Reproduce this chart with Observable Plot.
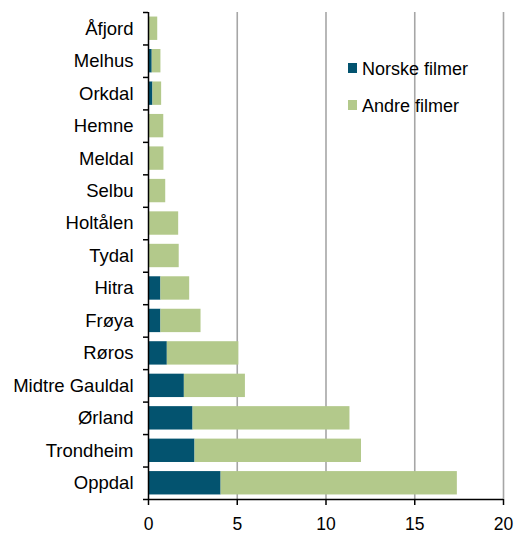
<!DOCTYPE html>
<html>
<head>
<meta charset="utf-8">
<script src="https://cdn.jsdelivr.net/npm/d3@7"></script>
<script src="https://cdn.jsdelivr.net/npm/@observablehq/plot@0.6"></script>
<style>
  html, body { margin: 0; padding: 0; background: #fff; }
  #wrap { position: relative; width: 516px; height: 533px; font-family: "Liberation Sans", Arial, sans-serif; }
  .sw { position: absolute; width: 9px; height: 10px; }
  .lt { position: absolute; font-size: 18px; line-height: 18px; color: #000; white-space: nowrap; }
</style>
</head>
<body>
<div id="wrap"></div>
<script>
const categories = ["Åfjord","Melhus","Orkdal","Hemne","Meldal","Selbu","Holtålen","Tydal","Hitra","Frøya","Røros","Midtre Gauldal","Ørland","Trondheim","Oppdal"];
const norske = [0, 0.21, 0.25, 0, 0, 0, 0, 0, 0.70, 0.70, 1.06, 2.02, 2.51, 2.62, 4.09];
const andre  = [0.52, 0.49, 0.49, 0.86, 0.87, 0.97, 1.70, 1.73, 1.62, 2.26, 4.03, 3.44, 8.84, 9.38, 13.31];
const seriesNames = ["Norske filmer", "Andre filmer"];
const colors = ["#03536f", "#b3c98b"];
const xTicks = [0, 5, 10, 15, 20];

const rows = [];
categories.forEach((c, i) => {
  rows.push({cat: c, i, series: seriesNames[0], x1: 0, x2: norske[i]});
  rows.push({cat: c, i, series: seriesNames[1], x1: norske[i], x2: norske[i] + andre[i]});
});

const n = categories.length;
const pad = 0.14;

const chart = Plot.plot({
  width: 516,
  height: 533,
  marginLeft: 148,
  marginRight: 13,
  marginTop: 12,
  marginBottom: 34,
  style: {fontFamily: "Liberation Sans, Arial, sans-serif", fontSize: "18px", color: "#000", background: "#fff"},
  x: {domain: [0, 20]},
  y: {domain: [n, 0]},
  color: {domain: seriesNames, range: colors},
  marks: [
    Plot.ruleX(xTicks.slice(1), {stroke: "#a6a6a6", strokeWidth: 1.6}),
    Plot.rect(rows.filter(d => d.x2 > d.x1), {
      x1: "x1", x2: "x2",
      y1: d => d.i + pad, y2: d => d.i + 1 - pad,
      fill: "series"
    }),
    Plot.ruleX([0], {stroke: "#000", strokeWidth: 1.5}),
    Plot.ruleY([n], {stroke: "#000", strokeWidth: 1.5}),
    Plot.axisY(d3.range(n + 1), {tickSize: 5, tickFormat: () => "", label: null, strokeWidth: 1.5, stroke: "#000"}),
    Plot.axisY(d3.range(n).map(i => i + 0.5), {tickSize: 0, tickPadding: 15, tickFormat: v => categories[Math.floor(v)], label: null, fontSize: 18.5, fill: "#000"}),
    Plot.axisX(xTicks, {tickSize: 6, tickPadding: 12, tickFormat: d => String(d), label: null, fontSize: 17.5, fill: "#000", stroke: "#000", strokeWidth: 1.5})
  ]
});

const wrap = document.getElementById("wrap");
wrap.appendChild(chart);

// legend overlay
const legendTops = [60, 97];
seriesNames.forEach((name, k) => {
  const sw = document.createElement("div");
  sw.className = "sw";
  sw.style.left = "348px";
  sw.style.top = (legendTops[k] + 3) + "px";
  sw.style.background = colors[k];
  wrap.appendChild(sw);
  const t = document.createElement("div");
  t.className = "lt";
  t.style.left = "362px";
  t.style.top = legendTops[k] + "px";
  t.textContent = name;
  wrap.appendChild(t);
});
</script>
</body>
</html>
